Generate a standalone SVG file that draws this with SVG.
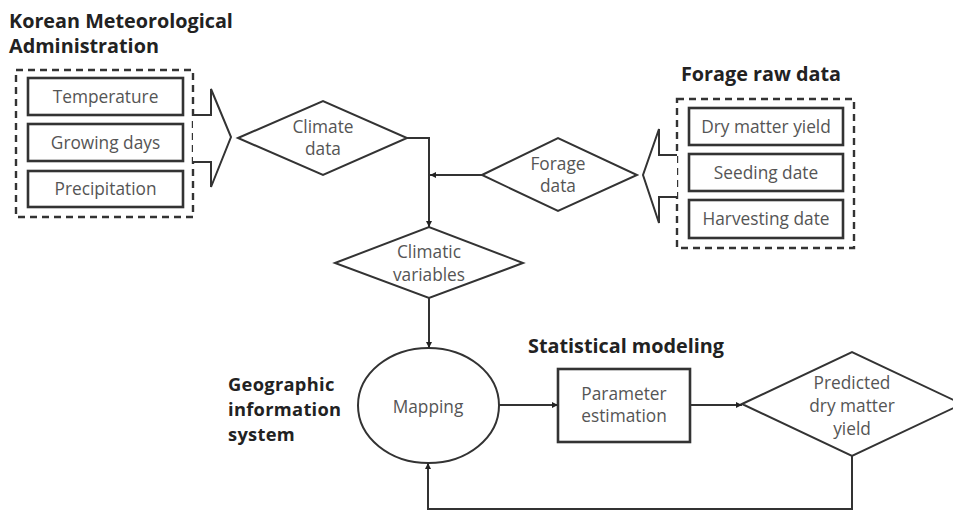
<svg xmlns="http://www.w3.org/2000/svg" width="953" height="510" viewBox="0 0 953 510">
<style>
.t{font-family:"Open Sans","Noto Sans",sans-serif;font-size:17.3px;fill:#555;text-anchor:middle}
.h{font-family:"Open Sans","Noto Sans",sans-serif;font-size:19.8px;font-weight:bold;fill:#222}
.g{font-size:18.3px;letter-spacing:0.3px}
.s{fill:#fff;stroke:#333;stroke-width:2}
.b{fill:#fff;stroke:#333;stroke-width:2.6}
.d{fill:none;stroke:#333;stroke-width:2.4;stroke-dasharray:7,5}
.c{fill:none;stroke:#333;stroke-width:2}
</style>
<defs>
<marker id="a" viewBox="0 0 10 10" refX="10" refY="5" markerWidth="6" markerHeight="6" orient="auto" markerUnits="userSpaceOnUse"><path d="M0,0L10,5L0,10z" fill="#222"/></marker>
</defs>
<rect width="953" height="510" fill="#fff"/>
<g id="kma">
<text class="h" x="9" y="28">Korean Meteorological<tspan x="9" y="53">Administration</tspan></text>
<rect class="d" x="16" y="70" width="177" height="147"/>
<g id="temperature"><rect class="b" x="28" y="78" width="155" height="37"/><text class="t" x="105.5" y="103">Temperature</text></g>
<g id="growing"><rect class="b" x="28" y="124" width="155" height="37"/><text class="t" x="105.5" y="149">Growing days</text></g>
<g id="precip"><rect class="b" x="28" y="171" width="155" height="36"/><text class="t" x="105.5" y="195">Precipitation</text></g>
<path class="s" d="M193,115H211V89L231,137L211,187V162H193"/>
</g>
<g id="forageraw">
<text class="h" x="681" y="81">Forage raw data</text>
<rect class="d" x="677" y="99" width="177" height="149"/>
<g id="dmy"><rect class="b" x="689" y="108" width="154" height="37"/><text class="t" x="766" y="133">Dry matter yield</text></g>
<g id="seeding"><rect class="b" x="689" y="154" width="154" height="37"/><text class="t" x="766" y="179">Seeding date</text></g>
<g id="harvest"><rect class="b" x="689" y="200" width="154" height="38"/><text class="t" x="766" y="225">Harvesting date</text></g>
<path class="s" d="M677,155H659V129L643,175L659,223V197H677"/>
</g>
<g id="climate"><path class="s" d="M238,138L323,101L407,138L323,175Z"/><text class="t" x="323" y="133">Climate<tspan x="323" y="155">data</tspan></text></g>
<g id="forage"><path class="s" d="M482,175L558,138L637,175L558,211Z"/><text class="t" x="558" y="170">Forage<tspan x="558" y="192">data</tspan></text></g>
<g id="climatic"><path class="s" d="M335,263L429,227L523,263L429,298Z"/><text class="t" x="429" y="258">Climatic<tspan x="429" y="281">variables</tspan></text></g>
<g id="gis"><text class="h g" x="228" y="391">Geographic<tspan x="228" y="416">information</tspan><tspan x="228" y="441">system</tspan></text></g>
<g id="mapping"><ellipse class="s" cx="428.5" cy="405.5" rx="70.5" ry="57.5"/><text class="t" x="428" y="413">Mapping</text></g>
<g id="stat"><text class="h" x="528" y="353">Statistical  modeling</text></g>
<g id="param"><rect class="b" x="558" y="369" width="132" height="73"/><text class="t" x="624" y="400">Parameter<tspan x="624" y="422">estimation</tspan></text></g>
<g id="predicted"><path class="s" d="M742,404L852,352L962,404L852,456Z"/><text class="t" x="852" y="389">Predicted<tspan x="852" y="412">dry matter</tspan><tspan x="852" y="435">yield</tspan></text></g>
<g id="connectors">
<path class="c" d="M407,138H429V227" marker-end="url(#a)"/>
<path class="c" d="M482,175H430" marker-end="url(#a)"/>
<path class="c" d="M429,298V348" marker-end="url(#a)"/>
<path class="c" d="M499,405H558" marker-end="url(#a)"/>
<path class="c" d="M690,405H742" marker-end="url(#a)"/>
<path class="c" d="M852,456V509H428V463" marker-end="url(#a)"/>
</g>
</svg>
